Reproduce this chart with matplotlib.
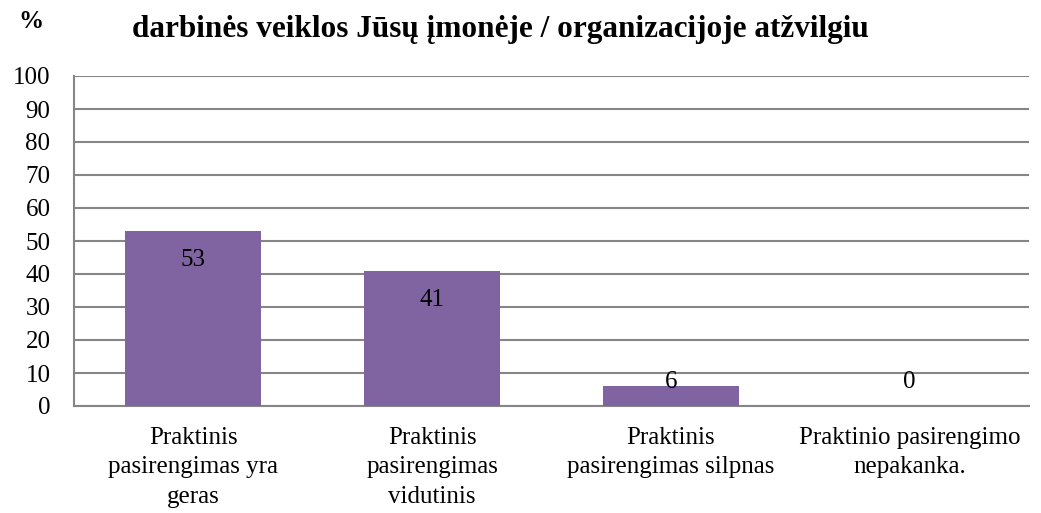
import matplotlib.pyplot as plt

categories = [
    "Praktinis\npasirengimas yra\ngeras",
    "Praktinis\npasirengimas\nvidutinis",
    "Praktinis\npasirengimas silpnas",
    "Praktinio pasirengimo\nnepakanka.",
]
values = [53, 41, 6, 0]
title = "darbinės veiklos Jūsų įmonėje / organizacijoje atžvilgiu"

plt.rcParams["font.family"] = ["Liberation Serif", "DejaVu Serif"]

fig = plt.figure(figsize=(10.41, 5.13), dpi=100)
ax = fig.add_axes([74 / 1041, 1 - 406 / 513, (1029 - 74) / 1041, (406 - 76) / 513])

x = range(len(values))
ax.bar(x, values, width=0.57, color="#8064A2", zorder=3)

for i, v in enumerate(values):
    y = max(v - 8.8, 7.3)
    ax.text(i, y, str(v), ha="center", va="center", fontsize=18, zorder=4)

ax.set_xlim(-0.5, 3.5)
ax.set_ylim(0, 100)
ax.set_yticks(range(0, 101, 10))
ax.set_xticks(list(x))
ax.set_xticklabels(categories, linespacing=1.45)
ax.tick_params(axis="y", length=0, labelsize=18, pad=17)
ax.tick_params(axis="x", length=0, labelsize=18, pad=15)
ax.grid(axis="y", color="#868686", linewidth=1.5, zorder=0)
for s in ["top", "right"]:
    ax.spines[s].set_visible(False)
for s in ["left", "bottom"]:
    ax.spines[s].set_color("#868686")
    ax.spines[s].set_linewidth(1.5)

fig.text(500 / 1041, 1 - 29 / 513, title, ha="center", va="center",
         fontsize=22.5, fontweight="bold")
fig.text(31 / 1041, 1 - 21 / 513, "%", ha="center", va="center",
         fontsize=18, fontweight="bold")

fig.savefig("out.png", dpi=100)
